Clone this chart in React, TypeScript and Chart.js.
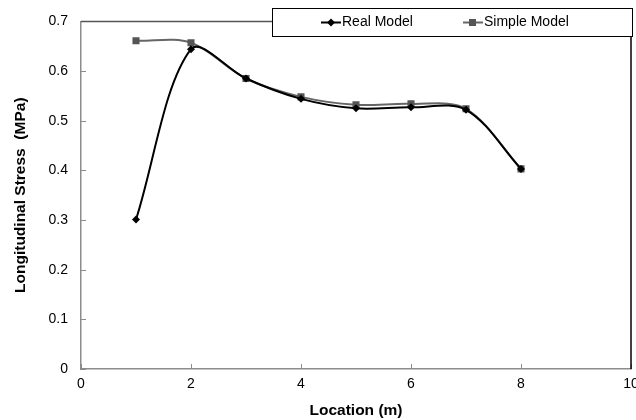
import React, { useEffect, useRef } from "react";
import { Chart, registerables } from "chart.js";

Chart.register(...registerables);

const locations = [1, 2, 3, 4, 5, 6, 7, 8];
const realModel = [0.301, 0.644, 0.585, 0.544, 0.525, 0.527, 0.522, 0.403];
const simpleModel = [0.661, 0.657, 0.585, 0.548, 0.532, 0.534, 0.524, 0.403];
const xTicks = [0, 2, 4, 6, 8, 10];
const yTicks = [0, 0.1, 0.2, 0.3, 0.4, 0.5, 0.6, 0.7];
const seriesNames = ["Real Model", "Simple Model"];

const FONT = "'Liberation Sans', Arial, sans-serif";

const framePlugin = {
  id: "frame",
  afterDatasetsDraw(chart: any) {
    const { ctx, chartArea: a, scales } = chart;
    ctx.save();
    ctx.strokeStyle = "#8c8c8c";
    ctx.lineWidth = 1;
    for (const v of yTicks) {
      const y = Math.round(scales.y.getPixelForValue(v)) + 0.5;
      ctx.beginPath();
      ctx.moveTo(a.left, y);
      ctx.lineTo(a.left + 5, y);
      ctx.stroke();
    }
    for (const v of xTicks) {
      const x = Math.round(scales.x.getPixelForValue(v)) + 0.5;
      ctx.beginPath();
      ctx.moveTo(x, a.bottom);
      ctx.lineTo(x, a.bottom - 5);
      ctx.stroke();
    }
    ctx.lineWidth = 1.5;
    ctx.strokeStyle = "#555555";
    ctx.beginPath();
    ctx.moveTo(a.left, a.top);
    ctx.lineTo(a.right, a.top);
    ctx.stroke();
    ctx.strokeStyle = "#000000";
    ctx.beginPath();
    ctx.moveTo(a.right, a.top);
    ctx.lineTo(a.right, a.bottom);
    ctx.stroke();

    const lx = 272, ly = 8, lw = 360, lh = 28;
    ctx.fillStyle = "#ffffff";
    ctx.fillRect(lx, ly, lw, lh);
    ctx.strokeStyle = "#000000";
    ctx.lineWidth = 1;
    ctx.strokeRect(lx + 0.5, ly + 0.5, lw, lh);
    const cy = ly + lh / 2 + 0.5;
    ctx.font = "14px " + FONT;
    ctx.textBaseline = "middle";
    ctx.textAlign = "left";
    ctx.strokeStyle = "#000000";
    ctx.lineWidth = 2;
    ctx.beginPath();
    ctx.moveTo(321, cy);
    ctx.lineTo(341, cy);
    ctx.stroke();
    ctx.fillStyle = "#000000";
    ctx.beginPath();
    ctx.moveTo(331, cy - 4);
    ctx.lineTo(335, cy);
    ctx.lineTo(331, cy + 4);
    ctx.lineTo(327, cy);
    ctx.closePath();
    ctx.fill();
    ctx.fillText(seriesNames[0], 342, cy);
    ctx.strokeStyle = "#666666";
    ctx.beginPath();
    ctx.moveTo(463, cy);
    ctx.lineTo(483, cy);
    ctx.stroke();
    ctx.fillStyle = "#555555";
    ctx.fillRect(469, cy - 3.5, 7, 7);
    ctx.fillStyle = "#000000";
    ctx.fillText(seriesNames[1], 484, cy);
    ctx.restore();
  },
};

export default function App() {
  const ref = useRef<HTMLCanvasElement>(null);
  useEffect(() => {
    document.body.style.margin = "0";
    const chart = new Chart(ref.current!, {
      type: "line",
      data: {
        datasets: [
          {
            label: seriesNames[0],
            data: locations.map((x, i) => ({ x, y: realModel[i] })),
            borderColor: "#000000",
            backgroundColor: "#000000",
            borderWidth: 2,
            pointStyle: "rectRot",
            pointRadius: 4,
            pointBorderWidth: 0,
            tension: 0.33,
          },
          {
            label: seriesNames[1],
            data: locations.map((x, i) => ({ x, y: simpleModel[i] })),
            borderColor: "#666666",
            backgroundColor: "#555555",
            borderWidth: 2,
            pointStyle: "rect",
            pointRadius: 5,
            pointBorderWidth: 0,
            tension: 0.33,
          },
        ],
      },
      options: {
        animation: false,
        responsive: false,
        maintainAspectRatio: false,
        layout: { padding: { top: 20, right: 4, left: 0, bottom: 0 } },
        plugins: { legend: { display: false }, tooltip: { enabled: false } },
        scales: {
          x: {
            type: "linear",
            min: 0,
            max: 10,
            afterBuildTicks: (s: any) => {
              s.ticks = xTicks.map((v) => ({ value: v }));
            },
            afterFit: (s: any) => {
              s.height = 51;
              s.paddingLeft = 0;
              s.paddingRight = 0;
            },
            grid: { display: false, drawTicks: false },
            border: { display: true, color: "#8c8c8c", width: 1.5 },
            ticks: {
              color: "#000000",
              font: { family: FONT, size: 14 },
              padding: 7,
            },
            title: {
              display: true,
              text: "Location (m)",
              color: "#000000",
              font: { family: FONT, size: 15.5, weight: "bold" },
              padding: { top: 2, bottom: 0 },
            },
          },
          y: {
            type: "linear",
            min: 0,
            max: 0.7,
            afterBuildTicks: (s: any) => {
              s.ticks = yTicks.map((v) => ({ value: v }));
            },
            afterFit: (s: any) => {
              s.width = 81;
            },
            grid: { display: false, drawTicks: false },
            border: { display: true, color: "#8c8c8c", width: 1.5 },
            ticks: {
              color: "#000000",
              font: { family: FONT, size: 14 },
              padding: 13,
              callback: (v: any) => (v === 0 ? "0" : Number(v).toFixed(1)),
            },
            title: {
              display: true,
              text: "Longitudinal Stress  (MPa)",
              color: "#000000",
              font: { family: FONT, size: 15.5, weight: "bold" },
              padding: { top: 11, bottom: 0 },
            },
          },
        },
      },
      plugins: [framePlugin],
    } as any);
    return () => chart.destroy();
  }, []);
  return (
    <div style={{ width: 636, height: 420, background: "#fff" }}>
      <canvas ref={ref} width={636} height={420} style={{ display: "block" }} />
    </div>
  );
}
